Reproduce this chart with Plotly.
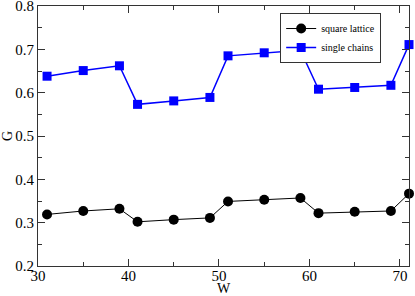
import plotly.graph_objects as go

W = [31, 35, 39, 41, 45, 49, 51, 55, 59, 61, 65, 69, 71]
square_lattice = [0.319, 0.327, 0.332, 0.302, 0.307, 0.311, 0.349, 0.353, 0.357, 0.322, 0.325, 0.327, 0.367]
single_chains = [0.638, 0.651, 0.662, 0.573, 0.581, 0.589, 0.685, 0.692, 0.698, 0.608, 0.612, 0.617, 0.711]

fig = go.Figure()
fig.add_trace(go.Scatter(x=W, y=square_lattice, mode="lines+markers", name="square lattice",
                         line=dict(color="#000000", width=1), cliponaxis=False,
                         marker=dict(symbol="circle", size=10, color="#000000")))
fig.add_trace(go.Scatter(x=W, y=single_chains, mode="lines+markers", name="single chains",
                         line=dict(color="#0000ff", width=1.5), cliponaxis=False,
                         marker=dict(symbol="square", size=9, color="#0000ff")))

font = "Liberation Serif"
axis_common = dict(showline=True, linecolor="#333", linewidth=1, mirror="allticks",
                   ticks="inside", ticklen=7, tickcolor="#333", showgrid=False, zeroline=False,
                   automargin=False, ticklabeloverflow="allow",
                   tickfont=dict(family=font, size=15, color="#000"))
fig.update_xaxes(range=[30, 71], dtick=10, tick0=30, ticklabelstandoff=-4,
                 minor=dict(ticks="inside", dtick=5, ticklen=4, tickcolor="#333"),
                 title=dict(text="W", font=dict(family=font, size=14, color="#000"), standoff=0),
                 **axis_common)
fig.update_yaxes(range=[0.2, 0.80001], dtick=0.1, tick0=0.2, tickformat=".1f",
                 minor=dict(ticks="inside", dtick=0.05, ticklen=4, tickcolor="#333"),
                 title=dict(text="G", font=dict(family=font, size=14, color="#000"), standoff=2),
                 **axis_common)
fig.update_layout(width=415, height=296, margin=dict(l=38, r=6, t=6, b=30),
                  plot_bgcolor="white", paper_bgcolor="white",
                  font=dict(family=font),
                  legend=dict(x=0.925, y=0.973, xanchor="right", yanchor="top",
                              bgcolor="white", bordercolor="#333", borderwidth=1,
                              font=dict(family=font, size=10, color="#000"),
                              itemwidth=30, tracegroupgap=0))
fig.write_html("out.html", config={"displayModeBar": False},
               post_script="document.body.style.margin='0';document.body.style.overflow='hidden';")
